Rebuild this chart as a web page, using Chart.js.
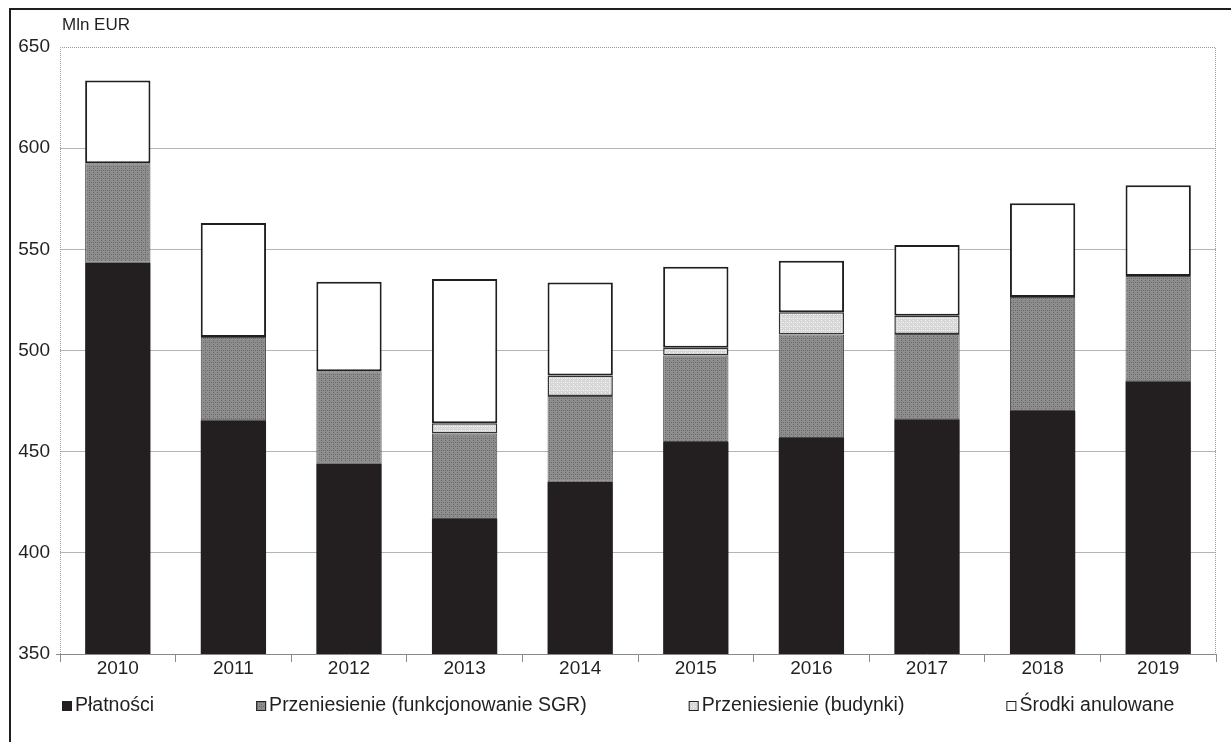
<!DOCTYPE html>
<html lang="pl">
<head>
<meta charset="utf-8">
<title>Mln EUR</title>
<script src="https://cdn.jsdelivr.net/npm/chart.js@4"></script>
<style>
    body { margin: 0; background: #ffffff; }
    #cadre {
        position: absolute;
        left: 9px;
        top: 8px;
        width: 1222px;
        height: 734px;
        border-top: 2px solid #1f1f1f;
        border-left: 2px solid #1f1f1f;
    }
    #wykres { display: block; }
</style>
</head>
<body>
<div id="cadre">
    <canvas id="wykres" width="1220" height="732"></canvas>
</div>
<script>
const lata = ['2010', '2011', '2012', '2013', '2014', '2015', '2016', '2017', '2018', '2019'];
const platnosci = [543.4, 465.5, 444.1, 416.7, 435.1, 454.8, 456.8, 466.0, 470.1, 484.8];
const przeniesienieSGR = [49.2, 41.2, 45.7, 42.3, 42.4, 42.7, 51.1, 42.2, 56.4, 52.0];
const przeniesienieBudynki = [0, 0, 0, 5.1, 10.2, 3.8, 11.0, 9.0, 0, 0];
const srodkiAnulowane = [40.9, 56.3, 44.2, 71.2, 45.9, 40.1, 25.4, 34.9, 46.3, 44.9];
const etykiety = ['Płatności', 'Przeniesienie (funkcjonowanie SGR)', 'Przeniesienie (budynki)', 'Środki anulowane'];
const osY = { min: 350, max: 650, krok: 50 };
const jednostka = 'Mln EUR';

const czcionka = '"Liberation Sans", Arial, Helvetica, sans-serif';

// small dotted textures, like the printed screen tones
function wzor(tlo, kropka) {
    const c = document.createElement('canvas');
    c.width = 4;
    c.height = 4;
    const g = c.getContext('2d');
    g.fillStyle = tlo;
    g.fillRect(0, 0, 4, 4);
    g.fillStyle = kropka;
    g.fillRect(0, 0, 1, 1);
    g.fillRect(2, 2, 1, 1);
    g.fillRect(2, 0, 1, 1);
    return g.createPattern(c, 'repeat');
}

const szary = wzor('#8e8e8e', '#6a6a6a');
const jasny = wzor('#d6d6d6', '#f4f4f4');

// frame of the plot area, unit label and the legend under the axis
const ramka = {
    id: 'ramka',
    beforeDatasetsDraw(chart) {
        const { ctx, chartArea: a } = chart;
        ctx.save();
        ctx.strokeStyle = '#9a9a9a';
        ctx.lineWidth = 1;
        ctx.setLineDash([1, 1]);
        ctx.beginPath();
        ctx.moveTo(a.left + 0.5, a.bottom);
        ctx.lineTo(a.left + 0.5, a.top + 0.5);
        ctx.lineTo(a.right - 0.5, a.top + 0.5);
        ctx.lineTo(a.right - 0.5, a.bottom);
        ctx.stroke();
        ctx.setLineDash([]);
        // short tick at the bottom of the value axis
        ctx.strokeStyle = '#8a8a8a';
        ctx.beginPath();
        ctx.moveTo(a.left - 4, a.bottom + 0.5);
        ctx.lineTo(a.left, a.bottom + 0.5);
        ctx.stroke();
        ctx.restore();
    },
    afterDraw(chart) {
        const { ctx, chartArea: a } = chart;
        ctx.save();
        ctx.fillStyle = '#231f20';
        ctx.font = '17px ' + czcionka;
        ctx.textBaseline = 'middle';
        ctx.textAlign = 'left';
        ctx.fillText(jednostka, a.left + 2, a.top - 22);

        // legend
        ctx.font = '19.5px ' + czcionka;
        const odstep = 102;
        const pudelko = 10;
        let x = a.left + 2;
        const y = a.bottom + 52;
        chart.data.datasets.forEach((d) => {
            ctx.fillStyle = d.backgroundColor;
            ctx.fillRect(x, y - pudelko / 2, pudelko, pudelko);
            ctx.strokeStyle = '#231f20';
            ctx.lineWidth = 1;
            ctx.strokeRect(x + 0.5, y - pudelko / 2 + 0.5, pudelko - 1, pudelko - 1);
            ctx.fillStyle = '#231f20';
            ctx.fillText(d.label, x + pudelko + 3, y);
            x += pudelko + 3 + ctx.measureText(d.label).width + odstep;
        });
        ctx.restore();
    }
};

const ctx = document.getElementById('wykres').getContext('2d');

const data = {
    labels: lata,
    datasets: [{
        label: etykiety[0],
        data: platnosci,
        backgroundColor: '#231f20',
        borderWidth: 0,
    }, {
        label: etykiety[1],
        data: przeniesienieSGR,
        backgroundColor: szary,
        borderColor: '#4a4a4a',
        borderWidth: 1,
        borderSkipped: false,
    }, {
        label: etykiety[2],
        data: przeniesienieBudynki,
        backgroundColor: jasny,
        borderColor: '#333333',
        borderWidth: 1.5,
        borderSkipped: false,
    }, {
        label: etykiety[3],
        data: srodkiAnulowane,
        backgroundColor: '#ffffff',
        borderColor: '#231f20',
        borderWidth: 2,
        borderSkipped: false,
    }]
};

const config = {
    type: 'bar',
    data: data,
    plugins: [ramka],
    options: {
        responsive: false,
        animation: false,
        layout: {
            padding: { top: 37, right: 15, left: 0, bottom: 48 }
        },
        datasets: {
            bar: {
                barPercentage: 0.565,
                categoryPercentage: 1,
            }
        },
        scales: {
            x: {
                stacked: true,
                afterFit(scale) { scale.height = 40; },
                border: {
                    display: true,
                    color: '#8a8a8a',
                    width: 1
                },
                grid: {
                    offset: true,
                    drawOnChartArea: false,
                    drawTicks: true,
                    tickLength: 8,
                    color: '#8a8a8a'
                },
                ticks: {
                    color: '#231f20',
                    padding: -3,
                    font: { family: czcionka, size: 19, lineHeight: 1 }
                }
            },
            y: {
                stacked: true,
                min: osY.min,
                max: osY.max,
                afterFit(scale) { scale.width = 49; },
                border: {
                    display: false
                },
                grid: {
                    drawTicks: false,
                    color: (c) => (c.tick && (c.tick.value === osY.max || c.tick.value === osY.min)) ? 'rgba(0,0,0,0)' : '#b4b4b4',
                    lineWidth: 1
                },
                ticks: {
                    stepSize: osY.krok,
                    color: '#231f20',
                    padding: 10,
                    font: { family: czcionka, size: 19 }
                }
            }
        },
        plugins: {
            legend: { display: false },
            tooltip: { enabled: false }
        }
    }
};

window.wykresInstance = new Chart(ctx, config);
</script>
</body>
</html>
